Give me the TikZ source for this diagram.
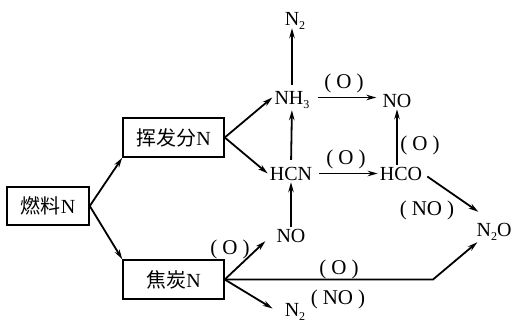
\documentclass[tikz,border=0pt]{standalone}
\usepackage{fontspec}
\setmainfont{Liberation Serif}
\newfontfamily\cjk{Noto Sans CJK SC}
\usetikzlibrary{arrows.meta}
\newcommand{\dsub}[1]{\raisebox{-4pt}{\fontsize{12}{12}\selectfont #1}}
\begin{document}
\begin{tikzpicture}[x=1pt,y=-1pt,
  every node/.style={font=\fontsize{20}{20}\selectfont},
  box/.style={draw,line width=1.5pt,minimum width=101pt,minimum height=39pt,inner sep=0pt},
  chem/.style={text height=13pt,text depth=0pt,inner sep=2pt},
  lab/.style={anchor=base,inner sep=0pt,font=\fontsize{21}{21}\selectfont},
  arr/.style={line width=1.8pt,-{Stealth[length=10pt,width=5.5pt]}},
  ln/.style={line width=1.8pt}]
\useasboundingbox (0,0) rectangle (512,324);
% boxes
\node[box,minimum width=82pt,minimum height=38pt] (fuel) at (48,206) {{\cjk\fontsize{20}{20}\selectfont 燃料}N};
\node[box] (vol) at (173.5,137.5) {{\cjk\fontsize{20}{20}\selectfont 挥发分}N};
\node[box] (coke) at (173.5,279.5) {{\cjk\fontsize{20}{20}\selectfont 焦炭}N};
% species
\node[chem] (n2top) at (295,19.5) {N\dsub{2}};
\node[chem] (nh3) at (292,97.5) {NH\dsub{3}};
\node[chem] (notop) at (397,100.5) {NO};
\node[chem] (hcn) at (291,173.5) {HCN};
\node[chem] (hco) at (401,173.5) {HCO};
\node[chem] (n2o) at (494,229.5) {N\dsub{2}O};
\node[chem] (nobot) at (291,235.5) {NO};
\node[chem] (n2bot) at (295,309.5) {N\dsub{2}};
% labels
\node[lab] (l1) at (344,88) {(\hspace{5pt}O\hspace{5pt})};
\node[lab] (l2) at (346,164) {(\hspace{5pt}O\hspace{5pt})};
\node[lab] (l3) at (420,150) {(\hspace{5pt}O\hspace{5pt})};
\node[lab] (l4) at (427,215) {(\hspace{5pt}NO\hspace{5pt})};
\node[lab] (l5) at (230,254) {(\hspace{5pt}O\hspace{5pt})};
\node[lab] (l6) at (339,274) {(\hspace{5pt}O\hspace{5pt})};
\node[lab] (l7) at (338,304) {(\hspace{5pt}NO\hspace{5pt})};
\coordinate (bend) at (433,279.5);
% connectors
\draw[arr] (fuel.east) -- (vol.south west);
\draw[arr] (fuel.east) -- (coke.north west);
\draw[arr] (vol.east) -- (nh3.west);
\draw[arr] (vol.east) -- (hcn.west);
\draw[arr,shorten <=4pt] (nh3.north) -- (nh3.north |- n2top.south);
\draw[arr,shorten <=6pt,shorten >=4pt] (nh3.east) -- (notop.west |- nh3.east);
\draw[arr,shorten <=5pt,shorten >=4pt] (hcn.north) -- (nh3.south);
\draw[arr,shorten <=5pt] (hcn.east) -- (hco.west);
\draw[arr] (hco.north -| notop) -- (notop.south);
\draw[arr] ([xshift=3pt,yshift=-3pt]hco.east) -- ([xshift=4pt,yshift=9pt]n2o.north west);
\draw[arr] (nobot.north) -- (hcn.south);
\draw[arr] (coke.east) -- ([xshift=-9pt,yshift=3pt]nobot.south west);
\draw[arr] (coke.east) -- ([xshift=-10pt,yshift=1pt]n2bot.west);
\draw[arr] (coke.east) -- (bend) -- ([xshift=3pt,yshift=-4pt]n2o.south west);
\end{tikzpicture}
\end{document}
